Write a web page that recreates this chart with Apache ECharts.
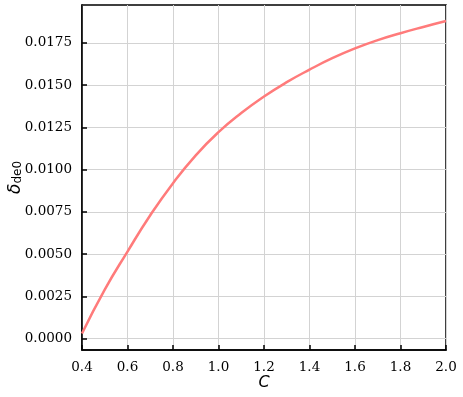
<!DOCTYPE html>
<html>
<head>
<meta charset="utf-8">
<script src="https://cdn.jsdelivr.net/npm/echarts@6/dist/echarts.min.js"></script>
<style>
  html, body { margin: 0; padding: 0; background: #fff; }
  #chart { width: 463px; height: 397px; }
</style>
</head>
<body>
<div id="chart"></div>
<script>
// values
const cValues = [0.4, 0.5, 0.6, 0.7, 0.8, 0.9, 1.0, 1.1, 1.2, 1.3, 1.4, 1.5, 1.6, 1.7, 1.8, 1.9, 2.0];
const deltaValues = [0.00030, 0.00290, 0.00515, 0.00730, 0.00920, 0.01085, 0.01222, 0.01335, 0.01433,
  0.01518, 0.01592, 0.01660, 0.01718, 0.01767, 0.01808, 0.01845, 0.01880];
const yTicks = [0, 0.0025, 0.005, 0.0075, 0.01, 0.0125, 0.015, 0.0175];

const chart = echarts.init(document.getElementById("chart"));

const points = cValues.map((c, i) => [c, deltaValues[i]]);

chart.setOption({
  animation: false,
  grid: {
    left: 82,
    right: 17,
    top: 5,
    bottom: 47,
    outerBoundsMode: "none",
    containLabel: false,
    show: true,
    borderColor: "#000",
    borderWidth: 1.5,
  },
  xAxis: {
    type: "value",
    min: 0.4,
    max: 2.0,
    interval: 0.2,
    name: "C",
    nameLocation: "middle",
    nameGap: 25,
    nameMoveOverlap: false,
    nameTextStyle: { fontFamily: "DejaVu Sans", fontStyle: "italic", fontSize: 16, color: "#000" },
    axisLine: { show: true, onZero: false, lineStyle: { color: "#000", width: 1.5 } },
    axisTick: { show: true, inside: true, length: 5, lineStyle: { color: "#000", width: 1.5 } },
    axisLabel: {
      margin: 10,
      fontFamily: "DejaVu Serif",
      fontSize: 13.5,
      color: "#000",
      formatter: (v) => v.toFixed(1),
    },
    splitLine: { show: true, lineStyle: { color: "#d3d3d3", width: 1 } },
  },
  yAxis: {
    type: "value",
    min: -0.00068,
    max: 0.01975,
    name: "{d|δ}{s|de0}",
    nameLocation: "middle",
    nameGap: 58,
    nameMoveOverlap: false,
    nameRotate: 90,
    nameTextStyle: {
      color: "#000",
      rich: {
        d: { fontFamily: "DejaVu Sans", fontStyle: "italic", fontSize: 17, color: "#000", verticalAlign: "bottom" },
        s: { fontFamily: "DejaVu Sans", fontSize: 12, color: "#000", verticalAlign: "top", padding: [7, 0, 0, 0] },
      },
    },
    axisLine: { show: true, onZero: false, lineStyle: { color: "#000", width: 1.5 } },
    axisTick: {
      show: true,
      inside: true,
      length: 5,
      customValues: yTicks,
      lineStyle: { color: "#000", width: 1.5 },
    },
    axisLabel: {
      margin: 10,
      fontFamily: "DejaVu Serif",
      fontSize: 13.5,
      color: "#000",
      customValues: yTicks,
      formatter: (v) => v.toFixed(4),
    },
    splitLine: { show: true, lineStyle: { color: "#d3d3d3", width: 1 } },
  },
  series: [
    {
      type: "line",
      data: points,
      smooth: 0.5,
      showSymbol: false,
      lineStyle: { color: "#ff7b7b", width: 2.5 },
    },
  ],
});
</script>
</body>
</html>
